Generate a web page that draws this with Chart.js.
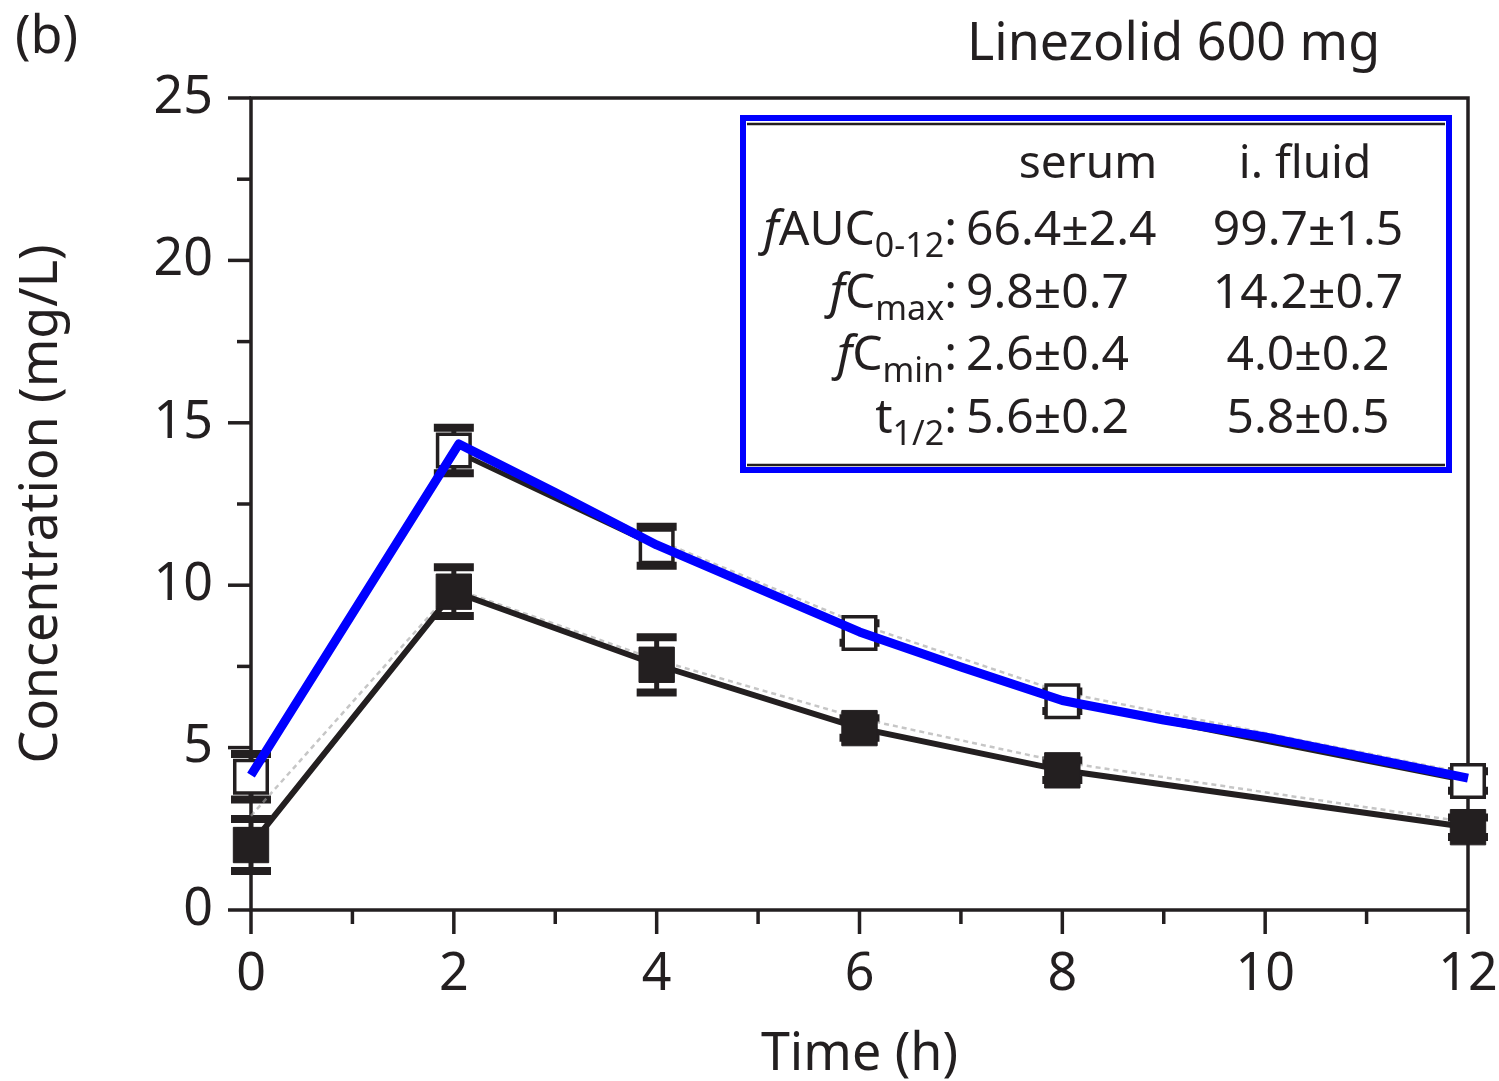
<!DOCTYPE html>
<html>
<head>
<meta charset="UTF-8" />
<title>Linezolid 600 mg</title>
<script src="https://cdn.jsdelivr.net/npm/chart.js@4.4.0/dist/chart.umd.min.js"></script>
<style>
    html, body { margin: 0; padding: 0; background: #fff; }
    #wrap { width: 1499px; height: 1081px; }
</style>
</head>
<body>
<div id="wrap"><canvas id="chart" width="1499" height="1081"></canvas></div>

<script>
// values (mean, SD)
const timeH     = [0, 2, 4, 6, 8, 12];
const serumMean = [2.0, 9.8, 7.55, 5.6, 4.3, 2.55];
const serumSd   = [0.8, 0.75, 0.85, 0.3, 0.3, 0.3];
const fluidMean = [4.1, 14.15, 11.2, 8.53, 6.43, 3.97];
const fluidSd   = [0.7, 0.7, 0.6, 0.3, 0.3, 0.3];

// faint grey dashed lines
const serumGrey = [2.9, 9.9, 7.7, 5.9, 4.55, 2.7];
const fluidGrey = [4.3, 14.25, 11.4, 8.8, 6.7, 4.2];

// blue curve (interstitial fluid)
const fitTime  = [0, 2.05, 3, 4, 5, 6, 7, 8, 9, 10, 12];
const fitFluid = [4.15, 14.35, 12.85, 11.24, 9.9, 8.56, 7.48, 6.45, 5.85, 5.33, 4.06];

// table in the box
const statNames  = [['f', 'AUC', '0-12'], ['f', 'C', 'max'], ['f', 'C', 'min'], ['', 't', '1/2']];
const serumStats = ['66.4\u00B12.4', '9.8\u00B10.7', '2.6\u00B10.4', '5.6\u00B10.2'];
const fluidStats = ['99.7\u00B11.5', '14.2\u00B10.7', '4.0\u00B10.2', '5.8\u00B10.5'];

const ink = '#231f20';
const FONT = '"Noto Sans", "Open Sans", sans-serif';

function pts(xs, ys) {
    return xs.map((x, i) => ({ x: x, y: ys[i] }));
}

// frame, outside ticks and error bars under the lines
const underPlugin = {
    id: 'under',
    beforeDatasetsDraw(chart) {
        const ctx = chart.ctx;
        const a = chart.chartArea;
        const xs = chart.scales.x, ys = chart.scales.y;
        ctx.save();
        ctx.strokeStyle = ink;
        ctx.lineWidth = 3.5;
        ctx.strokeRect(a.left, a.top, a.right - a.left, a.bottom - a.top);

        for (let v = 0; v <= 25; v += 2.5) {
            const y = ys.getPixelForValue(v);
            const len = (v % 5 === 0) ? 23 : 14;
            ctx.beginPath();
            ctx.moveTo(a.left - len, y);
            ctx.lineTo(a.left, y);
            ctx.stroke();
        }
        for (let v = 0; v <= 12; v += 1) {
            const x = xs.getPixelForValue(v);
            const len = (v % 2 === 0) ? 24 : 14;
            ctx.beginPath();
            ctx.moveTo(x, a.bottom);
            ctx.lineTo(x, a.bottom + len);
            ctx.stroke();
        }

        function bars(means, sds) {
            means.forEach((m, i) => {
                const x = xs.getPixelForValue(timeH[i]);
                const yt = ys.getPixelForValue(m + sds[i]);
                const yb = ys.getPixelForValue(m - sds[i]);
                ctx.lineWidth = 5;
                ctx.beginPath();
                ctx.moveTo(x, yt);
                ctx.lineTo(x, yb);
                ctx.stroke();
                ctx.lineWidth = 8;
                ctx.beginPath();
                ctx.moveTo(x - 20, yt); ctx.lineTo(x + 20, yt);
                ctx.moveTo(x - 20, yb); ctx.lineTo(x + 20, yb);
                ctx.stroke();
            });
        }
        bars(serumMean, serumSd);
        bars(fluidMean, fluidSd);
        ctx.restore();
    }
};

// panel letter, heading and the stats box
const textPlugin = {
    id: 'texts',
    afterDraw(chart) {
        const ctx = chart.ctx;
        ctx.save();
        ctx.fillStyle = ink;
        ctx.textBaseline = 'alphabetic';
        ctx.textAlign = 'left';
        ctx.font = '52px ' + FONT;
        ctx.fillText('(b)', 15, 53);
        ctx.fillText('Linezolid 600 mg', 967, 60);

        // box
        ctx.strokeStyle = ink;
        ctx.lineWidth = 2.5;
        ctx.beginPath();
        ctx.moveTo(747, 124); ctx.lineTo(1445, 124);
        ctx.moveTo(747, 465); ctx.lineTo(1445, 465);
        ctx.stroke();
        ctx.strokeStyle = '#0000ff';
        ctx.lineWidth = 6;
        ctx.strokeRect(743, 118, 706, 352);

        ctx.fillStyle = ink;
        ctx.font = '46px ' + FONT;
        ctx.textAlign = 'center';
        ctx.fillText('serum', 1088, 178);
        ctx.fillText('i. fluid', 1305, 178);

        const baseY = [245, 308, 370, 433];
        const colonRight = 957;
        statNames.forEach((p, r) => {
            const y = baseY[r];
            ctx.textAlign = 'left';
            ctx.font = 'italic 48px ' + FONT;
            const w1 = p[0] ? ctx.measureText(p[0]).width : 0;
            ctx.font = '48px ' + FONT;
            const w2 = ctx.measureText(p[1]).width;
            const wc = ctx.measureText(':').width;
            ctx.font = '34px ' + FONT;
            const w3 = ctx.measureText(p[2]).width;
            let x = colonRight - (w1 + w2 + w3 + wc);
            if (p[0]) {
                ctx.font = 'italic 48px ' + FONT;
                ctx.fillText(p[0], x, y);
            }
            x += w1;
            ctx.font = '48px ' + FONT;
            ctx.fillText(p[1], x, y);
            x += w2;
            ctx.font = '34px ' + FONT;
            ctx.fillText(p[2], x, y + 12);
            x += w3;
            ctx.font = '48px ' + FONT;
            ctx.fillText(':', x, y);

            ctx.fillText(serumStats[r], 966, y);
            ctx.textAlign = 'center';
            ctx.fillText(fluidStats[r], 1308, y);
        });
        ctx.restore();
    }
};

const ctx = document.getElementById('chart').getContext('2d');

const myChart = new Chart(ctx, {
    type: 'line',
    data: {
        datasets: [
            {
                label: 'fit i. fluid',
                data: pts(fitTime, fitFluid),
                borderColor: '#0000ff',
                borderWidth: 9,
                pointRadius: 0,
                tension: 0,
                borderJoinStyle: 'round',
                clip: false,
                order: 0
            },
            {
                label: 'i. fluid',
                data: pts(timeH, fluidMean),
                borderColor: ink,
                borderWidth: 5,
                pointStyle: 'rect',
                pointRadius: 23,
                pointBorderWidth: 3.5,
                pointBorderColor: ink,
                pointBackgroundColor: '#ffffff',
                tension: 0,
                clip: false,
                order: 1
            },
            {
                label: 'serum',
                data: pts(timeH, serumMean),
                borderColor: ink,
                borderWidth: 6,
                pointStyle: 'rect',
                pointRadius: 25,
                pointBorderWidth: 1,
                pointBorderColor: ink,
                pointBackgroundColor: ink,
                tension: 0,
                clip: false,
                order: 2
            },
            {
                label: 'serum grey',
                data: pts(timeH, serumGrey),
                borderColor: 'rgba(160,160,160,0.6)',
                borderWidth: 2.5,
                borderDash: [5, 4],
                pointRadius: 0,
                tension: 0,
                clip: false,
                order: 3
            },
            {
                label: 'fluid grey',
                data: pts(timeH, fluidGrey),
                borderColor: 'rgba(160,160,160,0.6)',
                borderWidth: 2.5,
                borderDash: [5, 4],
                pointRadius: 0,
                tension: 0,
                clip: false,
                order: 3
            }
        ]
    },
    options: {
        responsive: false,
        devicePixelRatio: 1,
        animation: false,
        layout: { padding: { left: 0, right: 31, top: 98, bottom: 0 } },
        plugins: {
            legend: { display: false },
            tooltip: { enabled: false }
        },
        scales: {
            x: {
                type: 'linear',
                min: 0,
                max: 12,
                afterFit: function(scale) {
                    scale.height = 171;
                    scale.paddingLeft = 0;
                    scale.paddingRight = 0;
                },
                grid: { display: false, drawTicks: false },
                border: { display: false },
                ticks: {
                    stepSize: 2,
                    padding: 34,
                    color: ink,
                    font: { family: FONT, size: 52 },
                    maxRotation: 0
                },
                title: {
                    display: true,
                    text: 'Time (h)',
                    color: ink,
                    font: { family: FONT, size: 52, lineHeight: 1 },
                    padding: { top: 0, bottom: 0 }
                }
            },
            y: {
                min: 0,
                max: 25,
                afterFit: function(scale) {
                    scale.width = 251;
                    scale.paddingTop = 0;
                    scale.paddingBottom = 0;
                },
                grid: { display: false, drawTicks: false },
                border: { display: false },
                ticks: {
                    stepSize: 5,
                    padding: 38,
                    color: ink,
                    font: { family: FONT, size: 52 }
                },
                title: {
                    display: true,
                    text: 'Concentration (mg/L)',
                    color: ink,
                    font: { family: FONT, size: 52, lineHeight: 1.2 },
                    padding: { top: 11, bottom: 0 }
                }
            }
        }
    },
    plugins: [underPlugin, textPlugin]
});
</script>
</body>
</html>
